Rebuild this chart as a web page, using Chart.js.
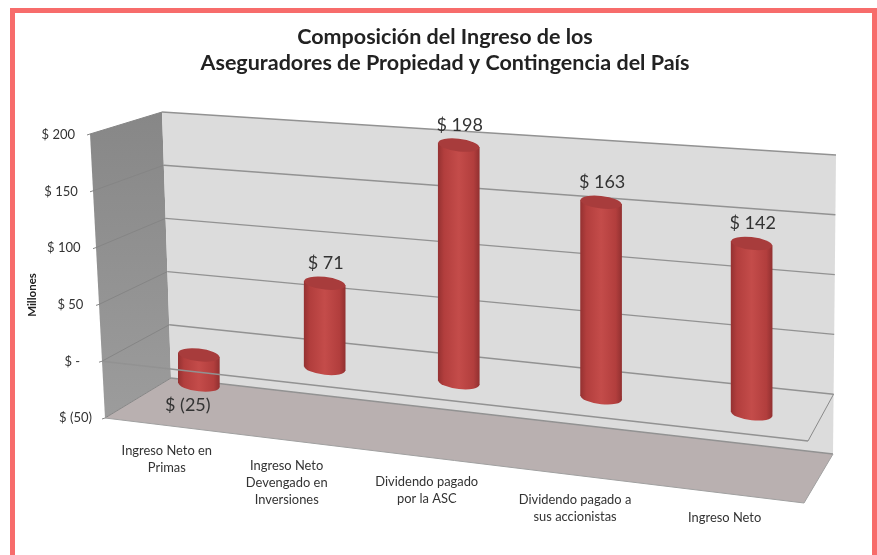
<!DOCTYPE html>
<html>
<head>
<meta charset="utf-8">
<style>
body { margin: 0; background: #fff; }
#frame { position: absolute; left: 10px; top: 8px; width: 857px; height: 547px; border: 5px solid #f76c6b; border-bottom: none; }
canvas { position: absolute; left: 0; top: 0; }
</style>
<script src="https://cdn.jsdelivr.net/npm/chart.js@4/dist/chart.umd.js"></script>
</head>
<body>
<div id="frame"></div>
<canvas id="chart" width="877" height="555"></canvas>
<script>
const categories = [
    ["Ingreso Neto en", "Primas"],
    ["Ingreso Neto", "Devengado en", "Inversiones"],
    ["Dividendo pagado", "por la ASC"],
    ["Dividendo pagado a", "sus accionistas"],
    ["Ingreso Neto"]
];
const values = [-25, 71, 198, 163, 142];
const titleLines = ["Composición del Ingreso de los", "Aseguradores de Propiedad y Contingencia del País"];
const axisTitle = "Millones";

const money = v => v === 0 ? "$ -" : v < 0 ? "$ (" + (-v) + ")" : "$ " + v;

// corners of the fake 3d box
const box = {
    frontTop: [90, 134], frontBottom: [105, 418],
    backTop: [162, 112], backBottom: [171, 378],
    rightTop: [836, 155], rightBottom: [833, 454],
    floorRight: [804, 503], zeroRight: [808, 441]
};
// bars sit in a plane between the front and the back of the box
const plane = { slope: 0.1065, stretch: 1.06, zeroX: 199, zeroY: 355 };
// the category labels do not sit exactly under their bars
const labelShift = [-32, -38, -32, -26, -27];

const mix = (a, b, t) => [a[0] + (b[0] - a[0]) * t, a[1] + (b[1] - a[1]) * t];
const line = (ctx, a, b) => { ctx.beginPath(); ctx.moveTo(a[0], a[1]); ctx.lineTo(b[0], b[1]); ctx.stroke(); };
const poly = (ctx, pts, fill) => {
    ctx.beginPath();
    pts.forEach((p, i) => i ? ctx.lineTo(p[0], p[1]) : ctx.moveTo(p[0], p[1]));
    ctx.closePath();
    ctx.fillStyle = fill;
    ctx.fill();
};
const share = (scale, v) => scale.getDecimalForPixel(scale.getPixelForValue(v));

// category scale with the spacing growing towards the viewer
class DepthScale extends Chart.CategoryScale {
    static id = 'depth';
    static defaults = Chart.CategoryScale.defaults;
    getPixelForDecimal(d) {
        return super.getPixelForDecimal(0.851 * d + 0.149 * d * d);
    }
}
Chart.register(DepthScale);

function screenY(chart, x, py) {
    const zero = chart.scales.y.getPixelForValue(0);
    return plane.stretch * (py - zero) + plane.zeroY + plane.slope * (x - plane.zeroX);
}

const box3d = {
    id: 'box3d',
    beforeDatasetsDraw(chart) {
        const ctx = chart.ctx, y = chart.scales.y;
        const at = (a, b, v) => mix(a, b, share(y, v));
        const front = v => at(box.frontBottom, box.frontTop, v);
        const back = v => at(box.backBottom, box.backTop, v);
        const right = v => at(box.rightBottom, box.rightTop, v);

        const wall = ctx.createLinearGradient(0, 112, 0, 418);
        wall.addColorStop(0, "#878787");
        wall.addColorStop(1, "#9c9c9c");
        poly(ctx, [box.frontTop, box.backTop, box.backBottom, box.frontBottom], wall);
        poly(ctx, [box.backTop, box.rightTop, box.rightBottom, box.backBottom], "#dcdcdc");
        poly(ctx, [box.backBottom, box.rightBottom, box.floorRight, box.frontBottom], "#b9b0b0");

        y.ticks.forEach(t => {
            const f = front(t.value);
            ctx.lineWidth = 1;
            ctx.strokeStyle = "#858585";
            line(ctx, [f[0] - 3, f[1] + 1], f);
            line(ctx, f, back(t.value));
            ctx.lineWidth = 1.4;
            ctx.strokeStyle = "#929292";
            line(ctx, back(t.value), right(t.value));
        });
        ctx.lineWidth = 1;
        ctx.strokeStyle = "#a0a0a0";
        line(ctx, box.frontBottom, box.floorRight);
        line(ctx, box.floorRight, box.rightBottom);
        ctx.strokeStyle = "#8a8a8a";
        line(ctx, right(0), box.zeroRight);

        // everything the library draws next lands on the tilted bar plane
        const zero = y.getPixelForValue(0);
        ctx.save();
        ctx.transform(1, plane.slope, 0, plane.stretch, 0,
            plane.zeroY - plane.slope * plane.zeroX - plane.stretch * zero);
    },
    beforeDatasetDraw(chart, args) {
        const ctx = chart.ctx;
        chart.getDatasetMeta(args.index).data.forEach(el => {
            ctx.beginPath();
            ctx.ellipse(el.x, Math.max(el.y, el.base), el.width / 2, 6, 0, 0, Math.PI * 2);
            ctx.fillStyle = cylinder(ctx, el.x, el.width);
            ctx.fill();
        });
    },
    afterDatasetDraw(chart, args) {
        const ctx = chart.ctx;
        chart.getDatasetMeta(args.index).data.forEach(el => {
            ctx.beginPath();
            ctx.ellipse(el.x, Math.min(el.y, el.base), el.width / 2, 6, 0, 0, Math.PI * 2);
            ctx.fillStyle = "#a83c3c";
            ctx.fill();
        });
    },
    afterDatasetsDraw(chart) {
        const ctx = chart.ctx, y = chart.scales.y, xs = chart.scales.x;
        ctx.restore();

        // front edge of the zero plane passes in front of the bars
        ctx.strokeStyle = "#929292";
        ctx.lineWidth = 1.4;
        line(ctx, mix(box.frontBottom, box.frontTop, share(y, 0)), box.zeroRight);

        ctx.fillStyle = "#333";
        ctx.textBaseline = "middle";

        // value labels
        ctx.textAlign = "center";
        ctx.font = "18px Lato";
        chart.getDatasetMeta(0).data.forEach((el, i) => {
            const v = values[i];
            if (v < 0) {
                ctx.fillText(money(v), el.x - 11, screenY(chart, el.x, el.y) + 20);
            } else {
                ctx.fillText(money(v), el.x + 1, screenY(chart, el.x, el.y) - 20);
            }
        });

        // value axis labels follow the slanted front edge
        ctx.font = "13px Lato";
        ctx.textAlign = "right";
        y.ticks.forEach(t => {
            const d = (200 - t.value) * 0.056;
            const nudge = t.value === 0 ? -6 : t.value < 0 ? 3 : 0;
            ctx.fillText(t.label, 75 + d + nudge, y.getPixelForValue(t.value));
        });

        // category labels under the floor
        ctx.font = "12.9px Lato";
        ctx.textAlign = "center";
        xs.ticks.forEach((t, i) => {
            const x = xs.getPixelForValue(i) + labelShift[i];
            const top = 451 + 0.12 * (x - 167);
            [].concat(t.label).forEach((s, n) => ctx.fillText(s, x, top + n * 17));
        });

        ctx.save();
        ctx.translate(32, 295);
        ctx.rotate(-Math.PI / 2);
        ctx.font = "bold 11.5px Lato";
        ctx.fillStyle = "#222";
        ctx.fillText(axisTitle, 0, 0);
        ctx.restore();
    }
};

function cylinder(ctx, x, w) {
    const g = ctx.createLinearGradient(x - w / 2, 0, x + w / 2, 0);
    g.addColorStop(0, "#963232");
    g.addColorStop(0.14, "#b23e3d");
    g.addColorStop(0.5, "#c44c4a");
    g.addColorStop(0.86, "#b23e3d");
    g.addColorStop(1, "#933131");
    return g;
}

new Chart(document.getElementById("chart"), {
    type: 'bar',
    data: {
        labels: categories,
        datasets: [{
            label: "Millones",
            data: values,
            barThickness: 41,
            borderSkipped: false,
            clip: false,
            backgroundColor: c => {
                const x = c.dataIndex === undefined ? NaN : c.chart.scales.x.getPixelForValue(c.dataIndex);
                return Number.isFinite(x) ? cylinder(c.chart.ctx, x, 41) : "#b03c3b";
            }
        }]
    },
    options: {
        responsive: false,
        animation: false,
        layout: { padding: { left: 60, right: 47, top: 0, bottom: 137 } },
        plugins: {
            legend: { display: false },
            tooltip: { enabled: false },
            title: {
                display: true,
                text: titleLines,
                color: "#222",
                font: { family: "Lato", size: 21.5, weight: "bold", lineHeight: 1.21 },
                padding: { top: 24, bottom: 59 }
            }
        },
        scales: {
            x: {
                type: 'depth',
                offset: true,
                grid: { display: false },
                border: { display: false },
                ticks: { display: false },
                afterFit: s => { s.height = 0; }
            },
            y: {
                min: -50,
                max: 200,
                grid: { display: false },
                border: { display: false },
                ticks: { display: false, stepSize: 50, callback: v => money(v) },
                afterFit: s => { s.width = 79; }
            }
        }
    },
    plugins: [box3d]
});
</script>
</body>
</html>
